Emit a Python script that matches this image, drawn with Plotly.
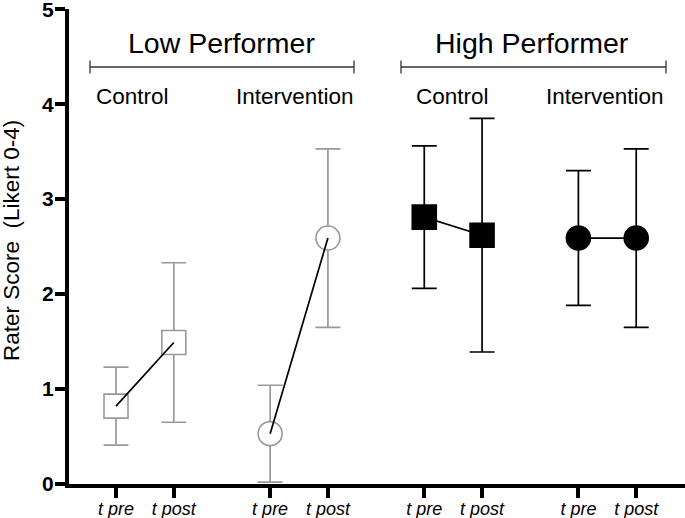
import plotly.graph_objects as go

# ---- data ----
groups = ["Low Control", "Low Intervention", "High Control", "High Intervention"]
performer = ["Low Performer", "High Performer"]
conditions = ["Control", "Intervention"]
time_labels = ["t pre", "t post"]
means_pre = [0.82, 0.53, 2.81, 2.59]
means_post = [1.49, 2.59, 2.62, 2.59]
err_pre = [0.41, 0.51, 0.75, 0.71]
err_post = [0.84, 0.94, 1.23, 0.94]
y_ticks = [0, 1, 2, 3, 4, 5]
y_title = "Rater Score\u00a0\u00a0(Likert 0-4)"

# ---- layout helpers ----
W, H = 685, 518
L, R, T, B = 69, 0, 9, 34
GROUP_STEP = 1 + 5 / 3
XMIN = 1 - (116 - L) / 57.8
XMAX = XMIN + (W - L - R) / 57.8
YMAX = 5.002


def xd(px):
    return XMIN + (px - L) / 57.8


def yd(py):
    return (H - B - py) / ((H - T - B) / YMAX)


def xp(px):
    return (px - L) / (W - L - R)


def yp(py):
    return (H - B - py) / (H - T - B)


GRAY = "#999999"
styles = [
    dict(symbol="square", color="white", line=GRAY, err=GRAY),
    dict(symbol="circle", color="white", line=GRAY, err=GRAY),
    dict(symbol="square", color="black", line="black", err="black"),
    dict(symbol="circle", color="black", line="black", err="black"),
]

fig = go.Figure()
tickvals, ticktext = [], []
for g, name in enumerate(groups):
    xs = [1 + g * GROUP_STEP, 2 + g * GROUP_STEP]
    ys = [means_pre[g], means_post[g]]
    es = [err_pre[g], err_post[g]]
    st = styles[g]
    fig.add_trace(go.Scatter(
        x=xs, y=ys, mode="markers", name=name, showlegend=False,
        marker=dict(symbol=st["symbol"], size=24, color=st["color"],
                    line=dict(color=st["line"], width=1.6)),
        error_y=dict(type="data", array=es, symmetric=True, color=st["err"],
                     thickness=1.7, width=12.5),
        cliponaxis=False,
    ))
    fig.add_trace(go.Scatter(
        x=xs, y=ys, mode="lines", showlegend=False,
        line=dict(color="black", width=1.7), cliponaxis=False,
    ))
    tickvals += xs
    ticktext += [f"<i>{t}</i>" for t in time_labels]

FONT = "Liberation Sans, Arial, Helvetica, sans-serif"

# bracket lines and labels
brackets = [(90, 354), (401, 666)]
perf_x = [221, 532]
cond_x = [(132, 295), (452, 605)]
for i, (a, b) in enumerate(brackets):
    yb = yd(67)
    fig.add_shape(type="line", xref="x", yref="y", x0=xd(a), x1=xd(b), y0=yb, y1=yb,
                  line=dict(color="#333", width=1.3))
    for xq in (a, b):
        fig.add_shape(type="line", xref="x", yref="y", x0=xd(xq), x1=xd(xq),
                      y0=yd(60.5), y1=yd(73.5), line=dict(color="#333", width=1.3))
    fig.add_annotation(x=xd(perf_x[i]), y=yd(43), xref="x", yref="y", text=performer[i],
                       showarrow=False, font=dict(size=28.5, color="black", family=FONT),
                       xanchor="center", yanchor="middle")
    for j, c in enumerate(conditions):
        fig.add_annotation(x=xd(cond_x[i][j]), y=yd(96), xref="x", yref="y", text=c,
                           showarrow=False, font=dict(size=22.5, color="black", family=FONT),
                           xanchor="center", yanchor="middle")

# y-axis title as rotated annotation
fig.add_annotation(x=xp(11), y=yp(241), xref="paper", yref="paper", text=y_title,
                   textangle=-90, showarrow=False,
                   font=dict(size=22.5, color="black", family=FONT),
                   xanchor="center", yanchor="middle")

fig.update_layout(
    width=W, height=H,
    margin=dict(l=L, r=R, t=T, b=B, pad=0),
    plot_bgcolor="white", paper_bgcolor="white",
    font=dict(family=FONT, color="black"),
    showlegend=False,
    xaxis=dict(range=[XMIN, XMAX], tickvals=tickvals, ticktext=ticktext, automargin=False,
               showgrid=False, zeroline=False, showline=True, linecolor="black",
               linewidth=4, ticks="outside", ticklen=10, tickwidth=4, tickcolor="black",
               ticklabelstandoff=-5, ticklabeloverflow="allow",
               tickfont=dict(size=18, family=FONT, color="black")),
    yaxis=dict(range=[0, YMAX], tickvals=y_ticks, ticktext=[f"<b>{v}</b>" for v in y_ticks],
               automargin=False,
               showgrid=False, zeroline=False, showline=True, linecolor="black",
               linewidth=4, ticks="outside", ticklen=10, tickwidth=4, tickcolor="black",
               ticklabelstandoff=-3, ticklabeloverflow="allow",
               tickfont=dict(size=21, family=FONT, color="black")),
)

fig.write_html("out.html", config={"displayModeBar": False},
               post_script="document.body.style.margin='0';")
